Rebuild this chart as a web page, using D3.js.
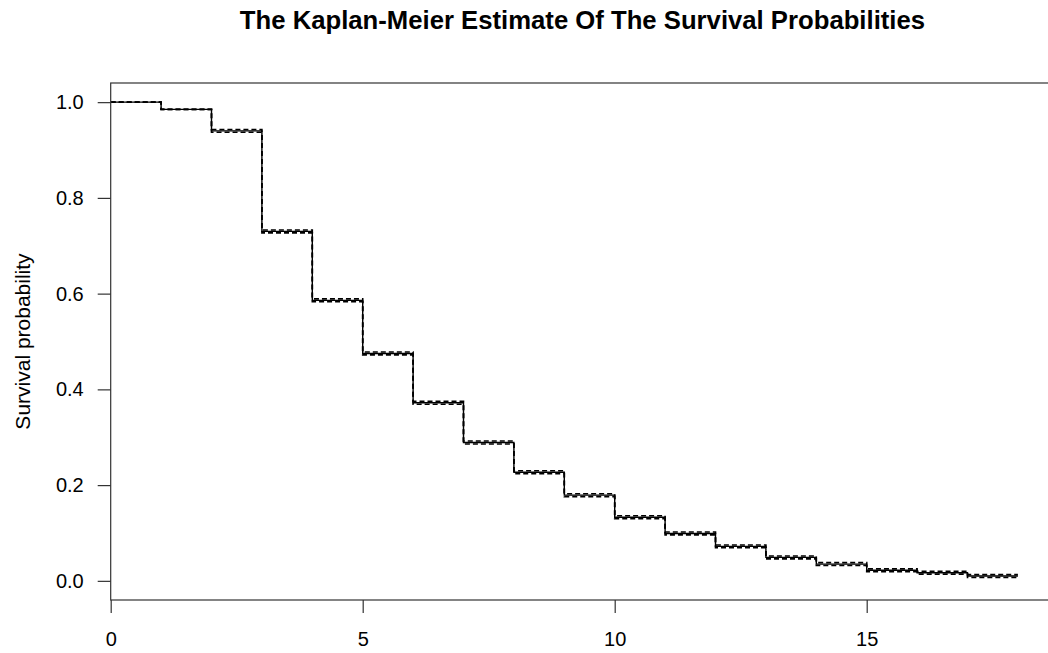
<!DOCTYPE html>
<html>
<head>
<meta charset="utf-8">
<script src="https://cdn.jsdelivr.net/npm/d3@7"></script>
<style>
  body { margin: 0; background: #fff; }
  svg text { font-family: "Liberation Sans", Arial, sans-serif; fill: #000; }
</style>
</head>
<body>
<script>
// Kaplan-Meier step data
const times = [0, 1, 2, 3, 4, 5, 6, 7, 8, 9, 10, 11, 12, 13, 14, 15, 16, 17, 18];
const survival = [1.0, 0.985, 0.940, 0.730, 0.586, 0.475, 0.372, 0.289, 0.227, 0.179,
                  0.133, 0.099, 0.072, 0.049, 0.035, 0.022, 0.017, 0.010, 0.010];
const upper = [1.0, 0.985, 0.943, 0.733, 0.589, 0.478, 0.375, 0.292, 0.230, 0.182,
               0.136, 0.102, 0.075, 0.052, 0.038, 0.025, 0.020, 0.013, 0.013];
const lower = [1.0, 0.985, 0.937, 0.727, 0.583, 0.472, 0.369, 0.286, 0.224, 0.176,
               0.130, 0.096, 0.069, 0.046, 0.032, 0.019, 0.014, 0.007, 0.007];
const xTicks = [0, 5, 10, 15];
const yTicks = [0, 0.2, 0.4, 0.6, 0.8, 1.0];

const width = 1048;
const height = 653;

const svg = d3.select("body")
    .append("svg")
    .attr("width", width)
    .attr("height", height);

// R-style 4% extension (right side only on x, both on y)
const x = d3.scaleLinear().domain([0, 18 * 1.04]).range([110.7, 110.7 + 18.72 * 50.4]);
const y = d3.scaleLinear().domain([-0.04, 1.04]).range([600, 83]);

const pts = arr => times.map((t, i) => [t, arr[i]]);
const line = d3.line()
    .x(d => x(d[0]))
    .y(d => y(d[1]))
    .curve(d3.curveStepAfter);

// confidence limits (dashed)
[upper, lower].forEach(arr => {
    svg.append("path")
        .datum(pts(arr))
        .attr("fill", "none")
        .attr("stroke", "#000")
        .attr("stroke-width", 1.6)
        .attr("stroke-dasharray", "5,3")
        .attr("d", line);
});

// estimate
svg.append("path")
    .datum(pts(survival))
    .attr("fill", "none")
    .attr("stroke", "#000")
    .attr("stroke-width", 1.4)
    .attr("d", line);

// box
svg.append("rect")
    .attr("x", x(0))
    .attr("y", y(1.04))
    .attr("width", x(18.72) - x(0))
    .attr("height", y(-0.04) - y(1.04))
    .attr("fill", "none")
    .attr("stroke", "#333")
    .attr("stroke-width", 1.2);

// axes
const gx = svg.append("g")
    .attr("transform", `translate(0,${y(-0.04)})`)
    .call(d3.axisBottom(x).tickValues(xTicks).tickSize(13).tickPadding(19).tickFormat(d3.format("d")));
const gy = svg.append("g")
    .attr("transform", `translate(${x(0)},0)`)
    .call(d3.axisLeft(y).tickValues(yTicks).tickSize(13).tickPadding(14).tickFormat(d3.format(".1f")));

[gx, gy].forEach(g => {
    g.select(".domain").remove();
    g.selectAll(".tick line").attr("stroke", "#333").attr("stroke-width", 1.2);
    g.selectAll(".tick text")
        .attr("font-size", 20)
        .attr("font-family", "Liberation Sans, Arial, sans-serif")
        .attr("fill", "#000");
});

// title
svg.append("text")
    .attr("x", (x(0) + x(18.72)) / 2)
    .attr("y", 29)
    .attr("text-anchor", "middle")
    .attr("font-size", 25.7)
    .attr("font-weight", "bold")
    .text("The Kaplan-Meier Estimate Of The Survival Probabilities");

// y label
svg.append("text")
    .attr("transform", `translate(30,${(y(1.04) + y(-0.04)) / 2}) rotate(-90)`)
    .attr("text-anchor", "middle")
    .attr("font-size", 21)
    .text("Survival probability");
</script>
</body>
</html>
